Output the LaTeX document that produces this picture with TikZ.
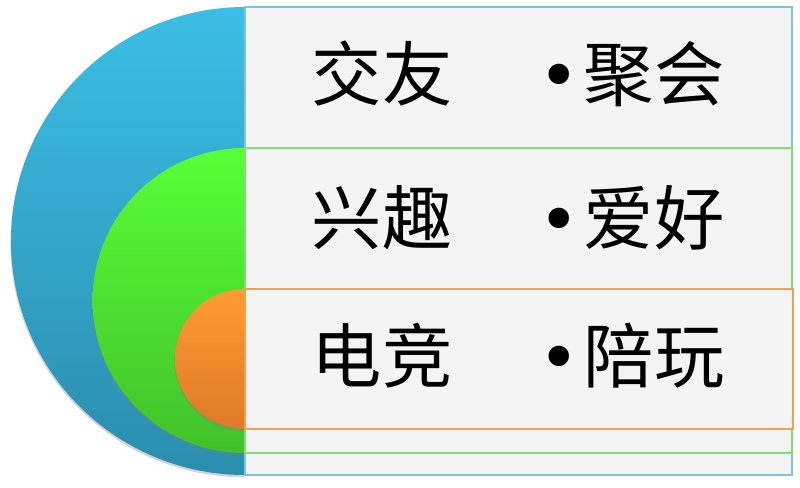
\documentclass[tikz,border=0pt]{standalone}
\usepackage{fontspec}
\usepackage{tikz}
\usetikzlibrary{shadows}
\newfontfamily\cjk{Noto Sans CJK SC}
\newfontfamily\bulletfont{DejaVu Sans}
\definecolor{SkyBlue}{HTML}{3CBEE4}
\definecolor{SkyBlueDark}{HTML}{2A8DAE}
\definecolor{LimeGreen}{HTML}{58FF36}
\definecolor{LimeGreenDark}{HTML}{42C12A}
\definecolor{SunOrange}{HTML}{FF9C32}
\definecolor{SunOrangeDark}{HTML}{DE7A26}
\definecolor{PanelGrey}{HTML}{F4F4F4}
\definecolor{EdgeBlue}{HTML}{80C2DA}
\definecolor{EdgeGreen}{HTML}{7EE070}
\definecolor{EdgeOrange}{HTML}{F4A050}

\begin{document}
\begin{tikzpicture}[
    panel/.style={draw, fill=PanelGrey, line width=0.8pt, inner sep=0pt, minimum width=13.675cm},
    word/.style={font=\cjk\fontsize{50pt}{50pt}\selectfont, text=black, inner sep=0pt},
    disc/.style={drop shadow={shadow xshift=-0.4pt, shadow yshift=-1.6pt, opacity=0.35}}
  ]
      \useasboundingbox (0,0) rectangle (20,12.175);

      % outer layer
      \shade[disc, top color=SkyBlue, bottom color=SkyBlueDark] (6.125,12.0) arc (90:270:5.85) -- cycle;
      \node[panel, draw=EdgeBlue, minimum height=11.7cm] (social) at (12.9625,6.15) {};

      % middle layer
      \shade[disc, top color=LimeGreen, bottom color=LimeGreenDark] (6.125,8.475) arc (90:270:3.8125) -- cycle;
      \node[panel, draw=EdgeGreen, minimum height=7.625cm] (hobby) at (12.9625,4.6625) {};

      % inner layer
      \shade[disc, top color=SunOrange, bottom color=SunOrangeDark] (6.125,4.95) arc (90:270:1.75) -- cycle;
      \node[panel, draw=EdgeOrange, minimum height=3.5cm, minimum width=13.7cm] (esport) at (12.975,3.2) {};

      \node[word] (socialname) at (9.55,10.325) {交友};
      \node[word, anchor=west] (socialitem) at (13.45,10.325) {{\bulletfont •}\hspace{3pt}聚会};
      \node[word] (hobbyname) at (9.55,6.725) {兴趣};
      \node[word, anchor=west] (hobbyitem) at (13.45,6.725) {{\bulletfont •}\hspace{3pt}爱好};
      \node[word] (esportname) at (9.55,3.275) {电竞};
      \node[word, anchor=west] (esportitem) at (13.45,3.275) {{\bulletfont •}\hspace{3pt}陪玩};
    \end{tikzpicture}
\end{document}
